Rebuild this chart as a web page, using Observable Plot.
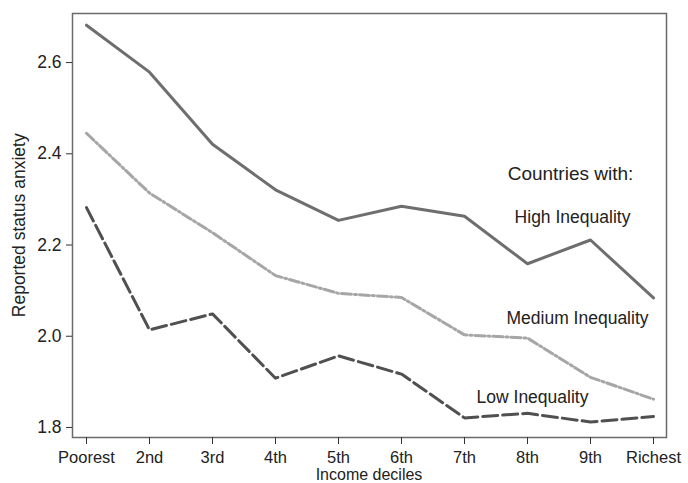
<!DOCTYPE html>
<html>
<head>
<meta charset="utf-8">
<script src="https://cdn.jsdelivr.net/npm/d3@7"></script>
<script src="https://cdn.jsdelivr.net/npm/@observablehq/plot@0.6"></script>
<style>
  html, body { margin: 0; padding: 0; background: #fff; }
  svg { display: block; }
</style>
</head>
<body>
<div id="chart"></div>
<script>
const deciles = ["Poorest", "2nd", "3rd", "4th", "5th", "6th", "7th", "8th", "9th", "Richest"];
const highInequality   = [2.682, 2.579, 2.421, 2.321, 2.254, 2.285, 2.263, 2.159, 2.211, 2.084];
const mediumInequality = [2.445, 2.314, 2.227, 2.133, 2.094, 2.085, 2.003, 1.996, 1.910, 1.862];
const lowInequality    = [2.282, 2.014, 2.049, 1.908, 1.957, 1.917, 1.821, 1.831, 1.812, 1.824];
const yTicks = [1.8, 2.0, 2.2, 2.4, 2.6];

const labels = [
  {text: "Countries with:", x: "8th", dx: 43, y: 2.357, size: 19},
  {text: "High Inequality", x: "8th", dx: 45, y: 2.261, size: 17.5},
  {text: "Medium Inequality", x: "8th", dx: 50, y: 2.040, size: 17.5},
  {text: "Low Inequality", x: "7th", dx: 68, y: 1.866, size: 17.5}
];

const toRows = (vals, series) => vals.map((v, i) => ({decile: deciles[i], value: v, series}));

const font = "Liberation Sans, Arial, sans-serif";

const chart = Plot.plot({
  width: 688,
  height: 483,
  marginLeft: 72,
  marginRight: 22,
  marginTop: 13,
  marginBottom: 46,
  style: {fontFamily: font, fontSize: "17.5px", color: "#222", background: "#fff"},
  x: {type: "point", domain: deciles, padding: 0, inset: 10, label: null},
  y: {domain: [1.778, 2.7076], label: null},
  marks: [
    Plot.frame({stroke: "#6a6a6a", strokeWidth: 1.5}),
    Plot.axisY({ticks: yTicks, tickFormat: d3.format(".1f"), tickSize: 6, tickPadding: 5, fontSize: 17.5, stroke: "#333"}),
    Plot.axisX({ticks: deciles, tickSize: 7, tickPadding: 6.5, fontSize: 16.5, stroke: "#333"}),
    Plot.ruleX([0], {frameAnchor: "left", stroke: "#333", strokeWidth: 1.5}),
    Plot.ruleY([0], {frameAnchor: "bottom", stroke: "#333", strokeWidth: 1.5}),
    Plot.lineY(toRows(highInequality, "High"), {x: "decile", y: "value", stroke: "#6e6e6e", strokeWidth: 3}),
    Plot.lineY(toRows(mediumInequality, "Medium"), {x: "decile", y: "value", stroke: "#a6a6a6", strokeWidth: 3, strokeDasharray: "10,3,2,3"}),
    Plot.lineY(toRows(lowInequality, "Low"), {x: "decile", y: "value", stroke: "#505050", strokeWidth: 3, strokeDasharray: "15,5"}),
    ...labels.map(l => Plot.text([l], {x: "x", y: "y", text: "text", dx: l.dx, fontSize: l.size, fill: "#222", fontFamily: font}))
  ]
});

const svg = chart;
const ns = "http://www.w3.org/2000/svg";
// axis titles
const yTitle = document.createElementNS(ns, "text");
yTitle.setAttribute("transform", "translate(18.5,225.3) rotate(-90)");
yTitle.setAttribute("text-anchor", "middle");
yTitle.setAttribute("dominant-baseline", "central");
yTitle.setAttribute("font-size", "17.5");
yTitle.setAttribute("font-family", font);
yTitle.setAttribute("fill", "#222");
yTitle.textContent = "Reported status anxiety";
svg.appendChild(yTitle);

const xTitle = document.createElementNS(ns, "text");
xTitle.setAttribute("x", 369);
xTitle.setAttribute("y", 479.5);
xTitle.setAttribute("text-anchor", "middle");
xTitle.setAttribute("font-size", "16");
xTitle.setAttribute("font-family", font);
xTitle.setAttribute("fill", "#222");
xTitle.textContent = "Income deciles";
svg.appendChild(xTitle);

document.getElementById("chart").appendChild(chart);
</script>
</body>
</html>
